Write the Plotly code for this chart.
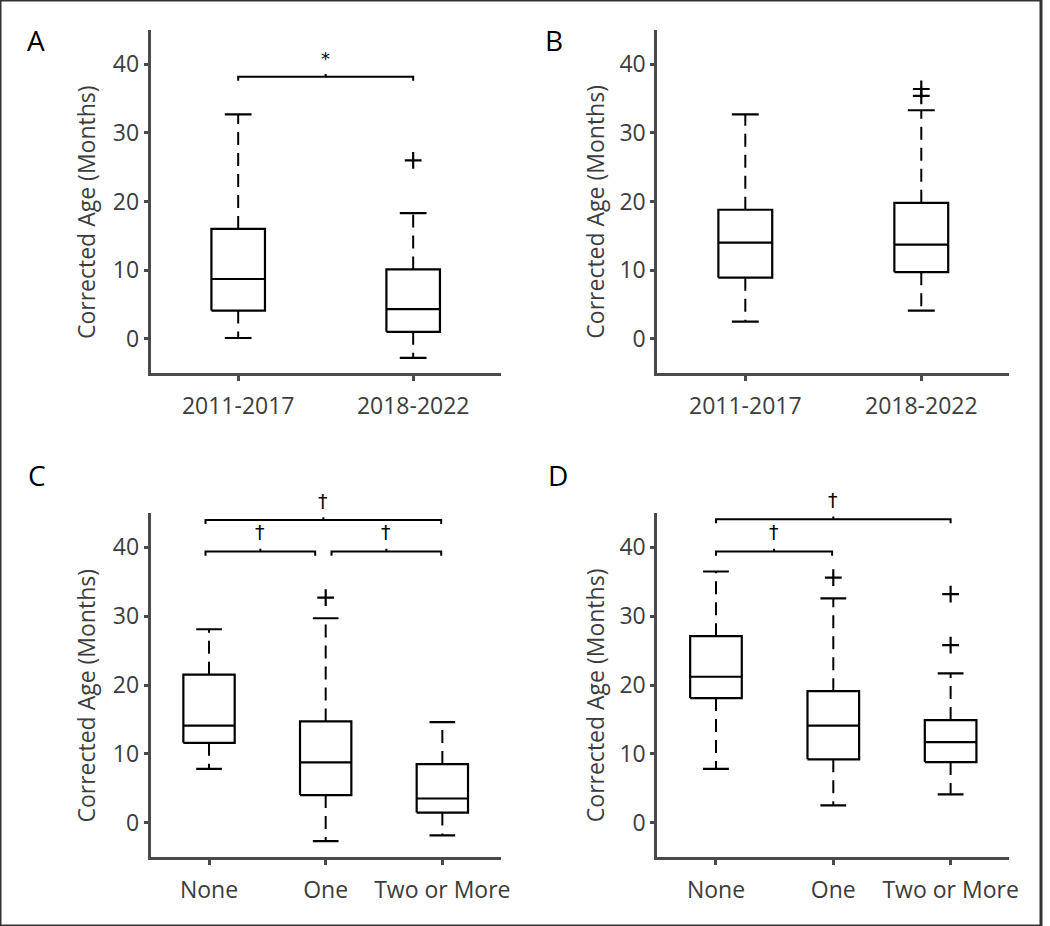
import plotly.graph_objects as go

# Panel A: corrected age by era
A_categories = ["2011-2017", "2018-2022"]
A_lower = [0.1, -2.8]
A_q1 = [4.1, 1.0]
A_median = [8.7, 4.3]
A_q3 = [16.0, 10.1]
A_upper = [32.7, 18.3]
A_outliers = [[], [26.0]]

# Panel B
B_categories = ["2011-2017", "2018-2022"]
B_lower = [2.5, 4.1]
B_q1 = [8.9, 9.7]
B_median = [14.0, 13.7]
B_q3 = [18.8, 19.8]
B_upper = [32.7, 33.3]
B_outliers = [[], [35.4, 36.4]]

# Panel C
C_categories = ["None", "One", "Two or More"]
C_lower = [7.8, -2.7, -1.85]
C_q1 = [11.6, 4.0, 1.45]
C_median = [14.1, 8.75, 3.5]
C_q3 = [21.5, 14.7, 8.5]
C_upper = [28.1, 29.7, 14.6]
C_outliers = [[], [32.7], []]

# Panel D
D_categories = ["None", "One", "Two or More"]
D_lower = [7.8, 2.5, 4.1]
D_q1 = [18.1, 9.2, 8.8]
D_median = [21.2, 14.1, 11.7]
D_q3 = [27.1, 19.1, 14.9]
D_upper = [36.5, 32.6, 21.7]
D_outliers = [[], [35.6], [25.8, 33.2]]

# significance brackets: (from, to, height, label)
A_brackets = [(1.0, 2.0, 38.2, "*")]
B_brackets = []
C_brackets = [(0.97, 2.99, 44.0, "†"), (0.97, 1.91, 39.4, "†"), (2.05, 2.99, 39.4, "†")]
D_brackets = [(1.0, 3.0, 44.1, "†"), (1.0, 1.99, 39.4, "†")]

W, H = 1050, 926
FONT = "Open Sans"
AXIS_GREY = "#4a4a4a"
TEXT_GREY = "#3c3c3c"
Y_RANGE = [-5, 45]

panels = [
    dict(label="A", cats=A_categories, lo=A_lower, q1=A_q1, med=A_median, q3=A_q3, hi=A_upper,
         out=A_outliers, br=A_brackets, px=(152, 505), py=(30, 373), lab=(36, 40), tx=87, hw=0.153),
    dict(label="B", cats=B_categories, lo=B_lower, q1=B_q1, med=B_median, q3=B_q3, hi=B_upper,
         out=B_outliers, br=B_brackets, px=(663, 1018), py=(30, 373), lab=(559, 40), tx=600, hw=0.153),
    dict(label="C", cats=C_categories, lo=C_lower, q1=C_q1, med=C_median, q3=C_q3, hi=C_upper,
         out=C_outliers, br=C_brackets, px=(152, 505), py=(513, 857), lab=(37, 475), tx=87, hw=0.22),
    dict(label="D", cats=D_categories, lo=D_lower, q1=D_q1, med=D_median, q3=D_q3, hi=D_upper,
         out=D_outliers, br=D_brackets, px=(663, 1018), py=(513, 857), lab=(563, 475), tx=600, hw=0.22),
]


def to_dom(v):
    # data value -> fraction of the y axis domain
    return (v - Y_RANGE[0]) / (Y_RANGE[1] - Y_RANGE[0])


fig = go.Figure()
annotations = []
shapes = []

for k, p in enumerate(panels):
    sfx = "" if k == 0 else str(k + 1)
    xa, ya = "x" + sfx, "y" + sfx
    hw = p["hw"]
    solid_x, solid_y, dash_x, dash_y, ox, oy = [], [], [], [], [], []
    for i in range(len(p["cats"])):
        x = i + 1
        # box outline
        solid_x += [x - hw, x + hw, x + hw, x - hw, x - hw, None]
        solid_y += [p["q1"][i], p["q1"][i], p["q3"][i], p["q3"][i], p["q1"][i], None]
        # median
        solid_x += [x - hw, x + hw, None]
        solid_y += [p["med"][i], p["med"][i], None]
        # whisker caps
        solid_x += [x - hw / 2, x + hw / 2, None, x - hw / 2, x + hw / 2, None]
        solid_y += [p["hi"][i], p["hi"][i], None, p["lo"][i], p["lo"][i], None]
        # dashed whiskers
        dash_x += [x, x, None, x, x, None]
        dash_y += [p["q3"][i], p["hi"][i], None, p["q1"][i], p["lo"][i], None]
        for v in p["out"][i]:
            ox.append(x)
            oy.append(v)

    fig.add_trace(go.Scatter(x=dash_x, y=dash_y, mode="lines", xaxis=xa, yaxis=ya,
                             line=dict(color="black", width=2, dash="13px,8px"),
                             showlegend=False, hoverinfo="skip"))
    fig.add_trace(go.Scatter(x=solid_x, y=solid_y, mode="lines", xaxis=xa, yaxis=ya,
                             line=dict(color="black", width=2.2),
                             showlegend=False, hoverinfo="skip"))
    if ox:
        fig.add_trace(go.Scatter(x=ox, y=oy, mode="markers", xaxis=xa, yaxis=ya,
                                 marker=dict(symbol="cross-thin", size=12,
                                             line=dict(color="black", width=2.2)),
                                 showlegend=False, hoverinfo="skip"))

    # significance brackets
    for (b0, b1, h, txt) in p["br"]:
        mid = (b0 + b1) / 2
        fig.add_trace(go.Scatter(x=[b0, b0, b1, b1, None, mid, mid],
                                 y=[h - 0.6, h, h, h - 0.6, None, h, h + 0.4],
                                 mode="lines", xaxis=xa, yaxis=ya, cliponaxis=False,
                                 line=dict(color="black", width=2),
                                 showlegend=False, hoverinfo="skip"))
        off = 2.6 if txt == "*" else 2.8
        annotations.append(dict(x=mid, y=to_dom(h + off), xref=xa, yref=ya + " domain",
                                text=txt, showarrow=False, yanchor="middle",
                                font=dict(family="DejaVu Sans", size=18 if txt == "*" else 19,
                                          color="black")))

    x0, x1 = p["px"]
    y0, y1 = p["py"]
    fig.update_layout({
        "xaxis" + sfx: dict(domain=[x0 / W, x1 / W], anchor=ya, range=[0.5, len(p["cats"]) + 0.5],
                            tickvals=list(range(1, len(p["cats"]) + 1)), ticktext=p["cats"],
                            showline=True, linecolor=AXIS_GREY, linewidth=3,
                            ticks="outside", ticklen=5, tickwidth=3, tickcolor=AXIS_GREY,
                            showgrid=False, zeroline=False, ticklabelstandoff=5,
                            tickfont=dict(family=FONT, size=23, color=TEXT_GREY)),
        "yaxis" + sfx: dict(domain=[1 - y1 / H, 1 - y0 / H], anchor=xa, range=Y_RANGE,
                            tickvals=[0, 10, 20, 30, 40],
                            showline=True, linecolor=AXIS_GREY, linewidth=3,
                            ticks="outside", ticklen=4, tickwidth=3, tickcolor=AXIS_GREY,
                            showgrid=False, zeroline=False, ticklabelstandoff=0,
                            tickfont=dict(family=FONT, size=23, color=TEXT_GREY)),
    })

    # y axis title, placed where the original figure has it
    annotations.append(dict(x=p["tx"] / W, y=to_dom(18.5), xref="paper", yref=ya + " domain",
                            text="Corrected Age (Months)", textangle=-90, showarrow=False,
                            xanchor="center", yanchor="middle",
                            font=dict(family=FONT, size=23, color=TEXT_GREY)))

    lx, ly = p["lab"]
    annotations.append(dict(x=lx / W, y=1 - ly / H, xref="paper", yref="paper", text=p["label"],
                            showarrow=False, xanchor="center", yanchor="middle",
                            font=dict(family=FONT, size=28, color="black")))

# outer frame
shapes.append(dict(type="rect", xref="paper", yref="paper", x0=0, y0=0, x1=1, y1=1,
                   line=dict(color="#333333", width=3)))

fig.update_layout(
    width=W, height=H,
    margin=dict(l=0, r=0, t=0, b=0),
    paper_bgcolor="white",
    plot_bgcolor="white",
    annotations=annotations,
    shapes=shapes,
    font=dict(family=FONT),
)

# page body has a default 8px margin; drop it so the figure fills the window
fig.write_html("out.html", config={"displayModeBar": False},
               post_script="document.body.style.margin='0';document.body.style.overflow='hidden';")
